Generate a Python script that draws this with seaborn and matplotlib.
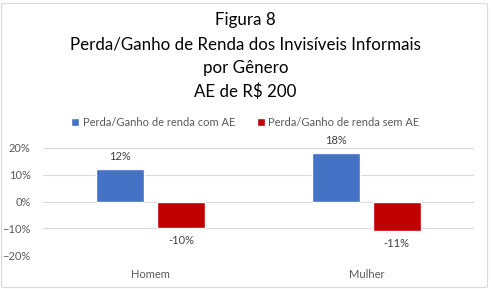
import matplotlib
matplotlib.use("Agg")
import matplotlib.pyplot as plt
import seaborn as sns
import pandas as pd
from matplotlib.patches import FancyBboxPatch
from matplotlib.ticker import PercentFormatter

categories = ["Homem", "Mulher"]
series_names = ["Perda/Ganho de renda com AE", "Perda/Ganho de renda sem AE"]
com_ae = [0.12, 0.18]
sem_ae = [-0.10, -0.11]
yticks = [-0.2, -0.1, 0.0, 0.1, 0.2]
title_lines = ["Figura 8", "Perda/Ganho de Renda dos Invisíveis Informais", "por Gênero", "AE de R$ 200"]
colors = ["#4472C4", "#C00000"]

df = pd.DataFrame({
    "Gênero": categories * 2,
    "Série": [series_names[0]] * len(categories) + [series_names[1]] * len(categories),
    "Valor": com_ae + sem_ae,
})

sns.set_theme(style="white")
plt.rcParams["font.family"] = ["Lato", "DejaVu Sans"]

fig = plt.figure(figsize=(4.91, 2.89), dpi=100)
ax = fig.add_axes([43 / 491, 1 - 255 / 289, 431 / 491, 107 / 289])

sns.barplot(data=df, x="Gênero", y="Valor", hue="Série", palette=colors,
            width=0.566, gap=0.213, ax=ax, saturation=1, legend=True)

ax.set_ylim(-0.2, 0.2)
ax.set_xlim(-0.5, 1.5)
ax.set_yticks(yticks)
ax.yaxis.set_major_formatter(PercentFormatter(1.0, decimals=0))
ax.grid(axis="y", color="#D9D9D9", linewidth=0.8)
ax.set_axisbelow(True)
for s in ax.spines.values():
    s.set_visible(False)
ax.tick_params(axis="both", length=0, labelsize=8, labelcolor="#595959")
ax.tick_params(axis="y", pad=9)
ax.tick_params(axis="x", pad=10)
ax.set_xlabel("")
ax.set_ylabel("")

for cont in ax.containers:
    labels = [f"{v*100:.0f}%" for v in cont.datavalues]
    ax.bar_label(cont, labels=labels, padding=5, fontsize=8, color="#404040")

handles, labs = ax.get_legend_handles_labels()
ax.legend_.remove()
fig.legend(handles, labs, loc="center", bbox_to_anchor=(0.5, 1 - 122 / 289), ncol=2,
           frameon=False, fontsize=8, handlelength=0.7, handleheight=0.7,
           handletextpad=0.3, columnspacing=2.0, labelcolor="#595959")

y0 = 20
for i, line in enumerate(title_lines):
    fig.text(0.5, 1 - (y0 + i * 24) / 289, line, ha="center", va="center",
             fontsize=12.2, color="black")

border = FancyBboxPatch((1.5 / 491, 1.5 / 289), 486 / 491, 284 / 289,
                        boxstyle="round,pad=0,rounding_size=0.005",
                        transform=fig.transFigure, fill=False,
                        edgecolor="#D9D9D9", linewidth=0.8)
fig.patches.append(border)

fig.savefig("out.png", dpi=100)
